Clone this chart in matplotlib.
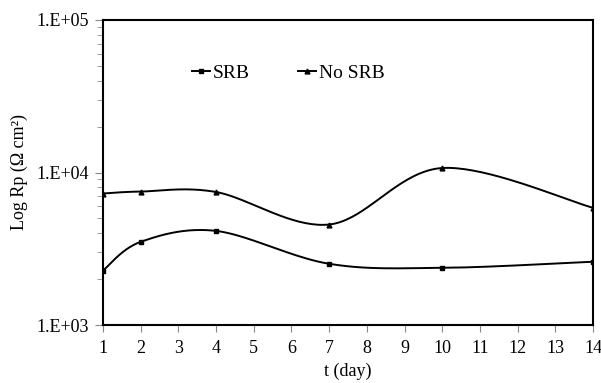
import numpy as np
import matplotlib
matplotlib.use("Agg")
import matplotlib.pyplot as plt

days = [1, 2, 4, 7, 10, 14]
srb = [2275, 3510, 4140, 2520, 2370, 2600]
no_srb = [7280, 7500, 7450, 4560, 10700, 5870]
series_names = ["SRB", "No SRB"]
x_ticks = list(range(1, 15))
y_ticks = [1e3, 1e4, 1e5]
y_tick_labels = ["1.E+03", "1.E+04", "1.E+05"]

plt.rcParams['font.family'] = ['Liberation Serif', 'DejaVu Serif']
plt.rcParams['font.size'] = 13


def smooth(xs, ys, n=40):
    """Excel-like smoothing (Catmull-Rom Bezier) in x / log10(y) space."""
    xs = np.asarray(xs, float)
    ly = np.log10(np.asarray(ys, float))
    P = np.column_stack([xs, ly])
    out = []
    m = len(P)
    for i in range(m - 1):
        p0 = P[i - 1] if i > 0 else P[i]
        p1 = P[i]
        p2 = P[i + 1]
        p3 = P[i + 2] if i + 2 < m else P[i + 1]
        c1 = p1 + (p2 - p0) / 6.0
        c2 = p2 - (p3 - p1) / 6.0
        t = np.linspace(0, 1, n)[:, None]
        seg = ((1 - t) ** 3) * p1 + 3 * ((1 - t) ** 2) * t * c1 + 3 * (1 - t) * t ** 2 * c2 + t ** 3 * p2
        out.append(seg if i == 0 else seg[1:])
    S = np.vstack(out)
    return S[:, 0], 10 ** S[:, 1]


fig = plt.figure(figsize=(6.01, 3.83), dpi=100)
ax = fig.add_axes([103 / 601, 1 - 325 / 383, 490 / 601, 305 / 383])

for ys, mk, name in [(srb, 's', series_names[0]), (no_srb, '^', series_names[1])]:
    sx, sy = smooth(days, ys)
    ax.plot(sx, sy, color='black', lw=1.4)
    ax.plot(days, ys, linestyle='none', marker=mk, color='black', markersize=3.5)
    ax.plot([], [], color='black', lw=1.4, marker=mk, markersize=3.5, label=name)

ax.set_yscale('log')
ax.set_xlim(1, 14)
ax.set_ylim(1e3, 1e5)
ax.set_xticks(x_ticks)
ax.set_yticks(y_ticks)
ax.set_yticklabels(y_tick_labels)
ax.tick_params(axis='both', direction='out', colors='black', labelsize=13)
ax.tick_params(axis='y', which='major', length=6, color='#888888', pad=4)
ax.tick_params(axis='y', which='minor', length=4, color='#888888')
ax.tick_params(axis='x', which='major', length=5, color='#888888', pad=6)
for s in ax.spines.values():
    s.set_linewidth(1.5)

ax.set_xlabel("t (day)", fontsize=13, labelpad=4)
ax.set_ylabel("Log Rp (Ω cm²)", fontsize=13, labelpad=6)

ax.legend(loc='center left', bbox_to_anchor=(0.182, 0.826), ncol=2, frameon=False,
          handlelength=0.9, handletextpad=0.15, columnspacing=2.5, fontsize=14,
          borderaxespad=0, borderpad=0)

fig.savefig("out.png", dpi=100)
